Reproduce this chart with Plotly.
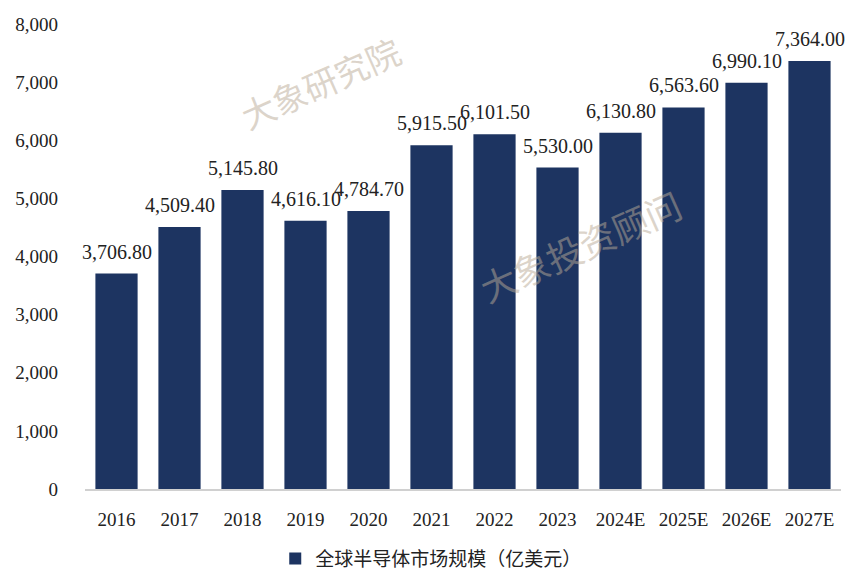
import plotly.graph_objects as go

categories = ["2016", "2017", "2018", "2019", "2020", "2021", "2022", "2023",
              "2024E", "2025E", "2026E", "2027E"]
values = [3706.8, 4509.4, 5145.8, 4616.1, 4784.7, 5915.5, 6101.5, 5530.0,
          6130.8, 6563.6, 6990.1, 7364.0]
series_name = "全球半导体市场规模（亿美元）"
y_ticks = [0, 1000, 2000, 3000, 4000, 5000, 6000, 7000, 8000]

SERIF = "Liberation Serif, DejaVu Serif, Noto Sans CJK SC, serif"
NAVY = "#1d3461"

fig = go.Figure()
fig.add_trace(go.Bar(
    x=categories, y=values, name=series_name,
    marker=dict(color=NAVY, line=dict(width=0)),
    showlegend=True,
))

# value labels above bars (x given as category index)
for i, v in enumerate(values):
    fig.add_annotation(x=i, y=v, xref="x", yref="y", text=f"{v:,.2f}",
                       showarrow=False, yanchor="bottom", yshift=9,
                       font=dict(family=SERIF, size=20, color="#222222"))

fig.update_layout(
    width=848, height=566,
    margin=dict(l=77, r=15, t=16, b=85, autoexpand=False),
    plot_bgcolor="white", paper_bgcolor="white",
    bargap=0.33,
    font=dict(family=SERIF, size=19, color="#222222"),
    xaxis=dict(type="category", categoryorder="array", categoryarray=categories,
               range=[-0.5, len(categories) - 0.5],
               showline=True, linecolor="#d0d0d0", linewidth=1.5,
               ticks="", ticklabelstandoff=12,
               tickfont=dict(family=SERIF, size=19, color="#222222")),
    yaxis=dict(range=[0, 8000], tickvals=y_ticks, tickformat=",d",
               showgrid=False, zeroline=False, showline=False, ticks="",
               ticklabelstandoff=26,
               tickfont=dict(family=SERIF, size=19, color="#222222")),
    legend=dict(orientation="h", x=0.458, xanchor="center", y=-0.15, yanchor="middle",
                font=dict(family="Noto Sans CJK SC, serif", size=19, color="#222222"),
                itemwidth=30),
)

# watermarks
fig.add_annotation(text="大象研究院", x=0.311, y=0.875, xref="paper", yref="paper",
                   xanchor="center", yanchor="middle",
                   showarrow=False, textangle=-24,
                   font=dict(family="Noto Sans CJK SC", size=34, color="rgba(185,170,150,0.5)"))
fig.add_annotation(text="大象投资顾问", x=0.655, y=0.525, xref="paper", yref="paper",
                   xanchor="center", yanchor="middle",
                   showarrow=False, textangle=-24,
                   font=dict(family="Noto Sans CJK SC", size=36, color="rgba(185,170,150,0.5)"))

fig.write_html("out.html")
